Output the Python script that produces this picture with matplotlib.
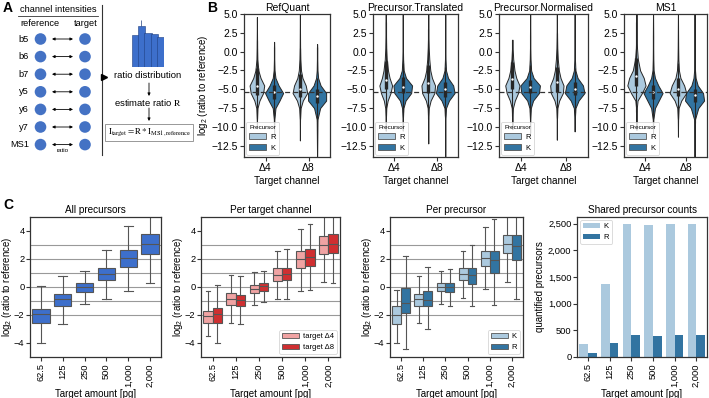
import numpy as np
import matplotlib
matplotlib.use("Agg")
import matplotlib.pyplot as plt
from matplotlib.patches import Patch, Circle
from matplotlib.ticker import FuncFormatter

plt.rcParams['font.family'] = ['Liberation Sans', 'DejaVu Sans']
plt.rcParams['mathtext.fontset'] = 'custom'
plt.rcParams['mathtext.rm'] = 'Liberation Sans'
plt.rcParams['mathtext.it'] = 'Liberation Sans:italic'
plt.rcParams['mathtext.bf'] = 'Liberation Sans:bold'
plt.rcParams['axes.unicode_minus'] = True

# ---------------- DATA ----------------
# Panel A
fragment_labels = ["b5", "b6", "b7", "y5", "y6", "y7", "MS1"]
hist_heights = [32, 41, 34, 33, 30]

# Panel B (violins); order in each panel: (Δ4,R), (Δ4,K), (Δ8,R), (Δ8,K)
panels_B = ["RefQuant", "Precursor.Translated", "Precursor.Normalised", "MS1"]
channels_B = ["Δ4", "Δ8"]
precursors_B = ["R", "K"]
expected_B = np.log2(1 / 40)
violin_grid = [-9, -7.5, -6.5, -5.5, -4.5, -3.5, -2.5, -1, 0.5, 2]
violin_tail_lo = [[-10.2, -11.0, -11.8, -15.0],
                  [-10.5, -10.5, -12.2, -15.0],
                  [-10.3, -10.8, -11.7, -10.6],
                  [-10.4, -10.8, -11.3, -15.0]]
violin_tail_hi = [[4.6, 1.3, 6.0, 1.0],
                  [6.0, 6.0, 6.0, 6.0],
                  [1.6, 6.0, 6.0, 6.0],
                  [6.0, 6.0, 6.0, 6.0]]
violin_density = [
    [[0.02, 0.08, 0.35, 0.85, 1.0, 0.5, 0.2, 0.06, 0.03, 0.02],
     [0.03, 0.15, 0.6, 1.0, 0.5, 0.15, 0.05, 0.02, 0.02, 0.02],
     [0.02, 0.1, 0.4, 1.0, 0.8, 0.35, 0.15, 0.06, 0.03, 0.02],
     [0.04, 0.3, 0.9, 0.9, 0.35, 0.1, 0.04, 0.02, 0.02, 0.02]],
    [[0.02, 0.08, 0.3, 0.75, 1.0, 0.6, 0.35, 0.15, 0.07, 0.04],
     [0.02, 0.07, 0.3, 0.9, 1.0, 0.35, 0.1, 0.04, 0.02, 0.02],
     [0.02, 0.08, 0.35, 0.9, 1.0, 0.55, 0.3, 0.15, 0.07, 0.03],
     [0.02, 0.08, 0.4, 1.0, 0.85, 0.3, 0.08, 0.03, 0.02, 0.02]],
    [[0.02, 0.08, 0.35, 0.8, 1.0, 0.55, 0.3, 0.12, 0.04, 0.02],
     [0.02, 0.07, 0.3, 0.9, 1.0, 0.35, 0.1, 0.04, 0.02, 0.02],
     [0.02, 0.08, 0.35, 0.9, 1.0, 0.55, 0.3, 0.14, 0.06, 0.03],
     [0.02, 0.08, 0.4, 1.0, 0.85, 0.3, 0.08, 0.03, 0.02, 0.02]],
    [[0.02, 0.04, 0.12, 0.6, 1.0, 0.8, 0.4, 0.15, 0.06, 0.03],
     [0.03, 0.2, 0.6, 1.0, 0.55, 0.2, 0.06, 0.03, 0.02, 0.02],
     [0.02, 0.08, 0.4, 1.0, 0.75, 0.3, 0.12, 0.05, 0.03, 0.02],
     [0.04, 0.35, 0.9, 0.8, 0.3, 0.1, 0.04, 0.02, 0.02, 0.02]],
]
violin_width = [[0.34, 0.42, 0.34, 0.42],
                [0.30, 0.44, 0.32, 0.44],
                [0.32, 0.44, 0.30, 0.44],
                [0.44, 0.46, 0.40, 0.46]]
inner_q1 = [[-5.8, -6.3, -6.0, -6.8], [-5.0, -5.5, -5.5, -6.0],
            [-5.0, -5.5, -5.4, -5.8], [-4.6, -6.3, -5.9, -6.7]]
inner_med = [[-4.6, -5.4, -4.9, -5.9], [-3.8, -4.7, -4.2, -5.0],
             [-3.6, -4.7, -4.0, -4.9], [-3.3, -5.3, -5.0, -5.8]]
inner_q3 = [[-2.2, -4.4, -3.0, -5.0], [-1.2, -3.4, -1.8, -4.0],
            [-1.4, -3.8, -2.0, -4.0], [-0.8, -4.4, -3.5, -4.9]]
inner_lo = [[-9.0, -8.5, -9.0, -9.2], [-8.5, -8.0, -9.0, -8.5],
            [-8.5, -8.0, -8.8, -8.2], [-8.0, -9.0, -9.0, -9.5]]
inner_hi = [[1.5, -2.5, 0.5, -3.5], [4.0, -1.5, 3.0, -2.0],
            [1.5, -1.8, 2.5, -2.2], [4.0, -2.5, -1.5, -2.5]]

# Panel C
amounts = ["62.5", "125", "250", "500", "1,000", "2,000"]
expected_C = [-2, -1, 0, 1, 2, 3]
all_q1 = [-2.59, -1.34, -0.34, 0.48, 1.46, 2.37]
all_med = [-1.96, -0.89, 0.0, 0.91, 2.06, 3.07]
all_q3 = [-1.58, -0.48, 0.29, 1.34, 2.61, 3.76]
all_lo = [-4.0, -2.63, -1.2, -0.86, -0.29, 0.29]
all_hi = [0.05, 0.81, 1.15, 2.66, 4.34, 5.6]

d4_q1 = [-2.54, -1.29, -0.43, 0.43, 1.39, 2.35]
d4_med = [-2.1, -0.86, -0.14, 0.89, 2.01, 3.02]
d4_q3 = [-1.72, -0.43, 0.17, 1.34, 2.54, 3.66]
d4_lo = [-3.5, -2.56, -1.29, -0.86, -0.29, 0.34]
d4_hi = [-0.31, 0.89, 1.1, 2.59, 4.17, 5.6]
d8_q1 = [-2.54, -1.39, -0.26, 0.5, 1.49, 2.4]
d8_med = [-1.96, -0.96, 0.07, 0.96, 2.11, 3.07]
d8_q3 = [-1.53, -0.57, 0.29, 1.37, 2.73, 3.81]
d8_lo = [-4.0, -2.63, -1.08, -0.86, -0.22, 0.29]
d8_hi = [0.14, 0.79, 1.17, 2.68, 4.53, 5.6]

k_q1 = [-2.62, -1.34, -0.31, 0.48, 1.49, 2.4]
k_med = [-1.98, -0.86, 0.02, 0.91, 2.06, 3.04]
k_q3 = [-1.34, -0.5, 0.29, 1.34, 2.56, 3.74]
k_lo = [-4.0, -2.56, -1.2, -0.77, -0.17, 0.38]
k_hi = [-0.24, 0.79, 1.15, 2.59, 4.26, 5.6]
r_q1 = [-1.87, -1.39, -0.38, 0.24, 1.0, 1.92]
r_med = [-1.13, -0.91, -0.02, 0.84, 1.92, 2.92]
r_q3 = [-0.05, -0.26, 0.29, 1.37, 2.56, 3.69]
r_lo = [-4.43, -2.97, -1.34, -1.37, -1.27, -0.86]
r_hi = [2.18, 1.46, 1.29, 2.97, 4.89, 5.6]

count_K = [237, 1362, 2500, 2481, 2487, 2487]
count_R = [78, 265, 412, 400, 406, 406]

# ---------------- STYLE ----------------
W, H = 709, 398
LIGHT_BLUE = '#abc9de'
DARK_BLUE = '#3274a1'
LIGHT_RED = '#f0a3a3'
DARK_RED = '#cf2f31'
ROYAL = '#3d6fcb'
SPINE = '#333333'
BOXEDGE = '#555555'

fig = plt.figure(figsize=(W / 100, H / 100), dpi=100)


def px_axes(l, t, r, b):
    return fig.add_axes([l / W, 1 - b / H, (r - l) / W, (b - t) / H])


def style_axes(ax, fs=7.5):
    for s in ax.spines.values():
        s.set_color(SPINE)
        s.set_linewidth(0.9)
    ax.tick_params(labelsize=fs, length=3, width=0.8, color=SPINE, pad=1.5)


def style_legend(leg):
    leg.get_frame().set_edgecolor('#cccccc')
    leg.get_frame().set_linewidth(0.6)


# ---------------- PANEL A ----------------
ov = fig.add_axes([0, 0, 1, 1])
ov.set_xlim(0, W)
ov.set_ylim(H, 0)
ov.axis('off')

ov.text(3, 8, "A", fontsize=10, fontweight='bold', va='center', ha='left')
ov.text(207, 8, "B", fontsize=10, fontweight='bold', va='center', ha='left')
ov.text(3, 205, "C", fontsize=10, fontweight='bold', va='center', ha='left')

ov.text(58, 10, "channel intensities", fontsize=6.7, ha='center', va='center')
ov.plot([18, 98], [15.5, 15.5], color='#333333', lw=0.6)
ov.text(40, 23, "reference", fontsize=6.7, ha='center', va='center')
ov.text(86, 23, "target", fontsize=6.7, ha='center', va='center')
for i, lab in enumerate(fragment_labels):
    y = 39 + i * 17.6
    ov.text(29, y, lab, fontsize=6.7, ha='right', va='center')
    ov.add_patch(Circle((40.5, y), 5.8, color='#4472c4', lw=0))
    ov.add_patch(Circle((85, y), 5.8, color='#4472c4', lw=0))
    ov.annotate('', xy=(73, y), xytext=(52, y),
                arrowprops=dict(arrowstyle='<|-|>', mutation_scale=4, lw=0.6,
                                color='black', shrinkA=0, shrinkB=0))
ov.text(62.5, 150.5, "ratio", fontsize=4.5, ha='center', va='center')
ov.plot([102, 102], [5, 155], color='#333333', lw=0.8)
ov.plot([104], [77], marker='>', color='black', markersize=4)

ov.text(148, 76, "ratio distribution", fontsize=6.8, ha='center', va='center')
ov.annotate('', xy=(149, 96), xytext=(149, 83),
            arrowprops=dict(arrowstyle='-|>', mutation_scale=4, lw=0.6,
                            color='black', shrinkA=0, shrinkB=0))
ov.text(148, 102, "estimate ratio $\\mathrm{R}$", fontsize=6.8, ha='center',
        va='center', math_fontfamily='stix')
ov.annotate('', xy=(149, 121), xytext=(149, 108),
            arrowprops=dict(arrowstyle='-|>', mutation_scale=4, lw=0.6,
                            color='black', shrinkA=0, shrinkB=0))
ov.text(149, 132.5,
        r"$\mathrm{I_{target}} = \mathrm{R} * \mathrm{I_{MS1,reference}}$",
        fontsize=6.5, ha='center', va='center', math_fontfamily='stix',
        bbox=dict(boxstyle='square,pad=0.25', fc='white', ec='#888888', lw=0.6))

axh = px_axes(132, 20, 164, 67)
axh.bar(range(len(hist_heights)), hist_heights, width=1.12, color=ROYAL,
        edgecolor='#1f3f80', linewidth=0.4)
axh.vlines(0.95, 41, 47, color='#1f3f80', lw=0.5)
axh.set_xlim(-0.5, 4.5)
axh.set_ylim(0, 47)
axh.axis('off')

# ---------------- PANEL B ----------------
b_boxes = [(244, 14, 330, 157), (373, 14, 458, 157),
           (499, 14, 588, 157), (624, 14, 707, 157)]
b_colors = [LIGHT_BLUE, DARK_BLUE, LIGHT_BLUE, DARK_BLUE]
b_pos = [-0.2, 0.2, 0.8, 1.2]
for p, box in enumerate(b_boxes):
    ax = px_axes(*box)
    stats = []
    for v in range(4):
        lo, hi = violin_tail_lo[p][v], violin_tail_hi[p][v]
        ys = [lo]
        ws = [0.0]
        for g, d in zip(violin_grid, violin_density[p][v]):
            if lo < g < hi:
                ys.append(g)
                ws.append(d)
        ys.append(hi)
        ws.append(0.0)
        stats.append(dict(coords=np.array(ys), vals=np.array(ws),
                          mean=inner_med[p][v], median=inner_med[p][v],
                          min=lo, max=hi))
    parts = ax.violin(stats, positions=b_pos, widths=violin_width[p],
                      showmeans=False, showextrema=False, showmedians=False)
    for body, c in zip(parts['bodies'], b_colors):
        body.set_facecolor(c)
        body.set_edgecolor('#262626')
        body.set_linewidth(0.7)
        body.set_alpha(1)
    ax.vlines(b_pos, inner_lo[p], inner_hi[p], color='#262626', lw=0.8, zorder=3)
    ax.vlines(b_pos, inner_q1[p], inner_q3[p], color='#262626', lw=2.4, zorder=3)
    ax.scatter(b_pos, inner_med[p], s=3, color='white', zorder=4, lw=0)
    ax.axhline(expected_B, color='#333333', lw=0.9, ls=(0, (4, 2.5)), zorder=5)
    ax.set_xlim(-0.5, 1.5)
    ax.set_ylim(-14, 5)
    ax.set_yticks([5, 2.5, 0, -2.5, -5, -7.5, -10, -12.5])
    ax.set_xticks([0, 1])
    ax.set_xticklabels(channels_B)
    style_axes(ax, 7.5)
    ax.set_title(panels_B[p], fontsize=7.5, pad=2.5)
    ax.set_xlabel("Target channel", fontsize=7.2, labelpad=2)
    if p == 0:
        ax.set_ylabel("log$_2$ (ratio to reference)", fontsize=7, labelpad=1)
    handles = [Patch(facecolor=LIGHT_BLUE, edgecolor='#555555', lw=0.6),
               Patch(facecolor=DARK_BLUE, edgecolor='#555555', lw=0.6)]
    leg = ax.legend(handles, precursors_B, title="Precursor", loc='lower left',
                    fontsize=5.5, title_fontsize=4.5, frameon=True,
                    handlelength=2.2, handleheight=0.9, borderpad=0.4,
                    labelspacing=0.4, borderaxespad=0.3, handletextpad=0.5)
    style_legend(leg)
    leg._legend_box.align = "left"

# ---------------- PANEL C ----------------
c_boxes = [(30, 217, 161, 357), (201, 217, 340, 357),
           (390, 217, 523, 357), (577, 217, 707, 357)]
x = np.arange(len(amounts))


def box_stats(q1, med, q3, lo, hi):
    return [dict(q1=a, med=b, q3=c, whislo=d, whishi=e, fliers=[])
            for a, b, c, d, e in zip(q1, med, q3, lo, hi)]


def draw_boxes(ax, stats, pos, width, color):
    ax.bxp(stats, positions=pos, widths=width, capwidths=width * 0.5,
           patch_artist=True, showfliers=False,
           boxprops=dict(facecolor=color, edgecolor=BOXEDGE, lw=0.8),
           medianprops=dict(color=BOXEDGE, lw=0.8),
           whiskerprops=dict(color=BOXEDGE, lw=0.8),
           capprops=dict(color=BOXEDGE, lw=0.8), manage_ticks=False)


def finish_c(ax, title):
    ax.set_xlim(-0.5, len(amounts) - 0.5)
    ax.set_xticks(x)
    ax.set_xticklabels(amounts, rotation=90)
    style_axes(ax, 6.7)
    ax.tick_params(axis='y', pad=1)
    ax.set_title(title, fontsize=7.2, pad=3)
    ax.set_xlabel("Target amount [pg]", fontsize=7, labelpad=1.5)


def ratio_axes(ax):
    for e in expected_C:
        ax.axhline(e, color='#999999', lw=0.8, zorder=0)
    ax.set_ylim(-5, 5)
    ax.set_yticks([-4, -2, 0, 2, 4])
    ax.set_ylabel("log$_2$ (ratio to reference)", fontsize=6.9, labelpad=0)


ax1 = px_axes(*c_boxes[0])
ratio_axes(ax1)
draw_boxes(ax1, box_stats(all_q1, all_med, all_q3, all_lo, all_hi), x, 0.8, ROYAL)
finish_c(ax1, "All precursors")

ax2 = px_axes(*c_boxes[1])
ratio_axes(ax2)
draw_boxes(ax2, box_stats(d4_q1, d4_med, d4_q3, d4_lo, d4_hi), x - 0.2, 0.4, LIGHT_RED)
draw_boxes(ax2, box_stats(d8_q1, d8_med, d8_q3, d8_lo, d8_hi), x + 0.2, 0.4, DARK_RED)
finish_c(ax2, "Per target channel")
leg = ax2.legend([Patch(facecolor=LIGHT_RED, edgecolor=BOXEDGE, lw=0.6),
                  Patch(facecolor=DARK_RED, edgecolor=BOXEDGE, lw=0.6)],
                 ["target Δ4", "target Δ8"], loc='lower right', fontsize=5.5,
                 handlelength=2.2, borderpad=0.4, labelspacing=0.4,
                 borderaxespad=0.4, handletextpad=0.5)
style_legend(leg)

ax3 = px_axes(*c_boxes[2])
ratio_axes(ax3)
draw_boxes(ax3, box_stats(k_q1, k_med, k_q3, k_lo, k_hi), x - 0.2, 0.4, LIGHT_BLUE)
draw_boxes(ax3, box_stats(r_q1, r_med, r_q3, r_lo, r_hi), x + 0.2, 0.4, DARK_BLUE)
finish_c(ax3, "Per precursor")
leg = ax3.legend([Patch(facecolor=LIGHT_BLUE, edgecolor=BOXEDGE, lw=0.6),
                  Patch(facecolor=DARK_BLUE, edgecolor=BOXEDGE, lw=0.6)],
                 ["K", "R"], loc='lower right', fontsize=5.5,
                 handlelength=2.2, borderpad=0.4, labelspacing=0.4,
                 borderaxespad=0.4, handletextpad=0.5)
style_legend(leg)

ax4 = px_axes(*c_boxes[3])
ax4.bar(x - 0.2, count_K, width=0.4, color=LIGHT_BLUE, label="K")
ax4.bar(x + 0.2, count_R, width=0.4, color=DARK_BLUE, label="R")
ax4.yaxis.set_major_formatter(FuncFormatter(lambda v, _: f"{int(v):,}"))
ax4.set_yticks([0, 500, 1000, 1500, 2000, 2500])
finish_c(ax4, "Shared precursor counts")
ax4.set_ylabel("quantified precursors", fontsize=7, labelpad=2)
leg = ax4.legend(loc='upper left', fontsize=5.5, handlelength=2.2,
                 borderpad=0.4, labelspacing=0.4, borderaxespad=0.4,
                 handletextpad=0.5)
style_legend(leg)

fig.savefig("out.png", dpi=100)
